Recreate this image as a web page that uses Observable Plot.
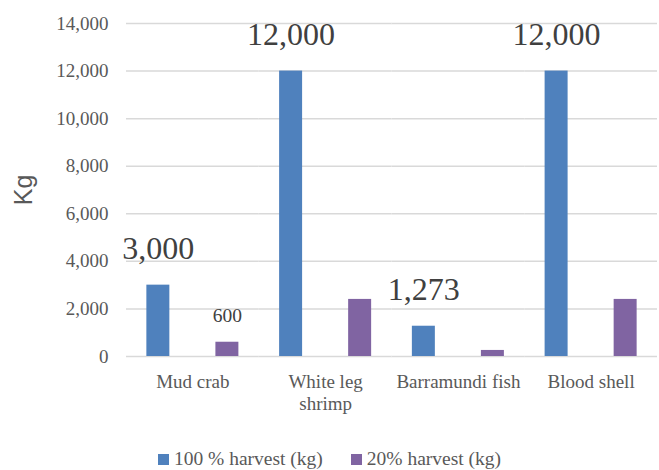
<!DOCTYPE html>
<html>
<head>
<meta charset="utf-8">
<script src="https://cdn.jsdelivr.net/npm/d3@7"></script>
<script src="https://cdn.jsdelivr.net/npm/@observablehq/plot@0.6"></script>
<style>
  body { margin: 0; background: #fff; }
  #chart svg g[aria-label="y-axis label"] text { font-family: "Liberation Sans", Arial, sans-serif; font-size: 25px; }
  #legend { display: flex; justify-content: center; gap: 28px; font-family: "Liberation Serif", "Times New Roman", serif; font-size: 19.5px; line-height: 22px; color: #595959; margin-top: 0px; }
  #legend span.item { display: flex; align-items: center; }
  #legend span.sw { display: inline-block; width: 11px; height: 11px; margin-right: 5px; }
</style>
</head>
<body>
<div id="chart"></div>
<div id="legend"></div>
<script>
const categories = ["Mud crab", "White leg shrimp", "Barramundi fish", "Blood shell"];
const categoryLines = ["Mud crab", "White leg\nshrimp", "Barramundi fish", "Blood shell"];
const series = ["100 % harvest (kg)", "20% harvest (kg)"];
const fullHarvest = [3000, 12000, 1273, 12000];
const partialHarvest = [600, 2400, 254.6, 2400];
const labelledPartial = ["Mud crab"];
const yTicks = [0, 2000, 4000, 6000, 8000, 10000, 12000, 14000];
const colors = ["#4f81bd", "#8064a2"];
const serif = "'Liberation Serif', 'Times New Roman', serif";

const data = [];
categories.forEach((c, i) => {
  data.push({category: c, series: series[0], value: fullHarvest[i]});
  data.push({category: c, series: series[1], value: partialHarvest[i]});
});
const fmt = d3.format(",");

const plot = Plot.plot({
  width: 659,
  height: 448,
  marginTop: 23,
  marginBottom: 92,
  marginLeft: 126,
  marginRight: 2,
  style: {fontFamily: serif, fontSize: "19px", color: "#595959", background: "#fff"},
  fx: {domain: categories, padding: 0, label: null, axis: null, round: false},
  x: {domain: series, paddingInner: 0.667, paddingOuter: 0.295, axis: null, round: false},
  y: {domain: [0, 14000], ticks: yTicks, axis: null},
  color: {domain: series, range: colors},
  marks: [
    Plot.gridY(yTicks, {stroke: "#d9d9d9", strokeOpacity: 1, strokeWidth: 1.5}),
    Plot.axisY(yTicks, {tickSize: 0, tickPadding: 18, tickFormat: fmt, label: "Kg", labelAnchor: "center", labelArrow: "none", labelOffset: 112, fontSize: 19}),
    Plot.axisFx({anchor: "bottom", tickSize: 0, tickPadding: 16, tickFormat: (d) => categoryLines[categories.indexOf(d)], lineHeight: 1.15, label: null}),
    Plot.barY(data, {fx: "category", x: "series", y: "value", fill: "series"}),
    Plot.text(data.filter(d => d.series === series[0]), {fx: "category", x: "series", y: "value", text: d => fmt(d.value), fontFamily: serif, fontSize: 32, fill: "#404040", lineAnchor: "bottom", dy: -26}),
    Plot.text(data.filter(d => d.series === series[1] && labelledPartial.includes(d.category)), {fx: "category", x: "series", y: "value", text: d => fmt(d.value), fontFamily: serif, fontSize: 19.5, fill: "#404040", lineAnchor: "bottom", dy: -20})
  ]
});
document.getElementById("chart").appendChild(plot);

const legend = document.getElementById("legend");
series.forEach((s, i) => {
  const item = document.createElement("span");
  item.className = "item";
  const sw = document.createElement("span");
  sw.className = "sw";
  sw.style.background = colors[i];
  item.appendChild(sw);
  item.appendChild(document.createTextNode(s));
  legend.appendChild(item);
});
</script>
</body>
</html>
